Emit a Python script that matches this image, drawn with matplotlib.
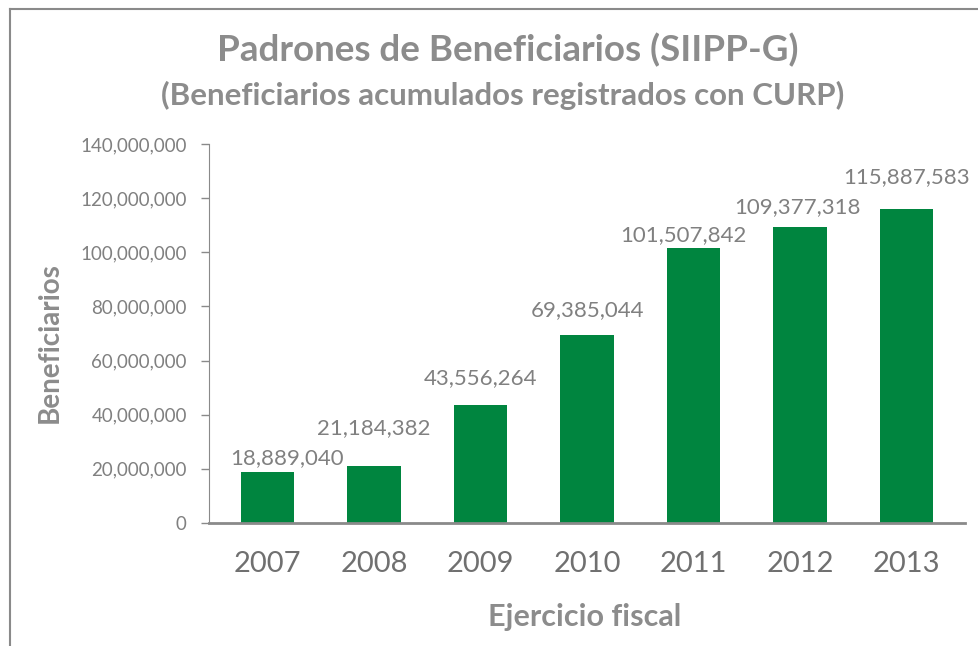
import matplotlib
matplotlib.use("Agg")
import matplotlib.pyplot as plt
from matplotlib.lines import Line2D
from matplotlib.ticker import FuncFormatter

# ── Data ──────────────────────────────────────
years = ["2007", "2008", "2009", "2010", "2011", "2012", "2013"]
beneficiarios = [18889040, 21184382, 43556264, 69385044, 101507842, 109377318, 115887583]
yticks = [0, 20000000, 40000000, 60000000, 80000000, 100000000, 120000000, 140000000]

# manual data-label placement (pixels from bar top centre), as in the source chart
label_dx = [19, 0, 0, 0, -10, -3, 0]
label_dy = [14, 38, 27, 25, 13, 20, 32]

GREEN = "#00853F"
GRAY_TXT = "#808080"
GRAY_TITLE = "#8c8c8c"
GRAY_LINE = "#8a8a8a"

plt.rcParams["font.family"] = ["Lato", "DejaVu Sans"]

fig = plt.figure(figsize=(9.79, 6.46), dpi=100)
ax = fig.add_axes([209 / 979, 1 - 523 / 646, 756 / 979, 379 / 646])

x = range(len(years))
ax.bar(x, beneficiarios, width=0.5, color=GREEN)

for xi, v, dx, dy in zip(x, beneficiarios, label_dx, label_dy):
    ax.annotate(f"{v:,}", (xi, v), xytext=(dx, dy), textcoords="offset pixels",
                ha="center", va="center", fontsize=16, color=GRAY_TXT)

ax.set_ylim(0, 140000000)
ax.set_xlim(-0.55, 6.55)
ax.set_yticks(yticks)
ax.yaxis.set_major_formatter(FuncFormatter(lambda v, p: f"{int(v):,}"))
ax.set_xticks(list(x))
ax.set_xticklabels(years)

ax.tick_params(axis="y", labelsize=13.5, colors=GRAY_LINE, labelcolor=GRAY_TXT,
               length=6, width=1, pad=10)
ax.tick_params(axis="x", labelsize=21, labelcolor="#707070", length=0, pad=20)

for s in ["top", "right"]:
    ax.spines[s].set_visible(False)
ax.spines["left"].set_color(GRAY_LINE)
ax.spines["bottom"].set_color(GRAY_LINE)
ax.spines["bottom"].set_linewidth(2)

ax.set_ylabel("Beneficiarios", fontsize=20, fontweight="bold", color=GRAY_TITLE)
ax.yaxis.set_label_coords(-0.194, 0.475)
ax.set_xlabel("Ejercicio fiscal", fontsize=22, fontweight="bold", color=GRAY_TITLE)
ax.xaxis.set_label_coords((585 - 209) / 756, -(603 - 523) / 379)

fig.text(508 / 979, 1 - 50 / 646, "Padrones de Beneficiarios (SIIPP-G)",
         ha="center", va="center", fontsize=26.5, fontweight="bold", color=GRAY_TITLE)
fig.text(503 / 979, 1 - 95 / 646, "(Beneficiarios acumulados registrados con CURP)",
         ha="center", va="center", fontsize=22.5, fontweight="bold", color=GRAY_TITLE)

# outer chart frame (left and top edges visible)
fig.add_artist(Line2D([10 / 979, 10 / 979], [0, 1 - 9 / 646], transform=fig.transFigure,
                      color=GRAY_LINE, lw=1.5))
fig.add_artist(Line2D([10 / 979, 1], [1 - 9 / 646, 1 - 9 / 646], transform=fig.transFigure,
                      color=GRAY_LINE, lw=1.5))

fig.savefig("out.png", dpi=100)
